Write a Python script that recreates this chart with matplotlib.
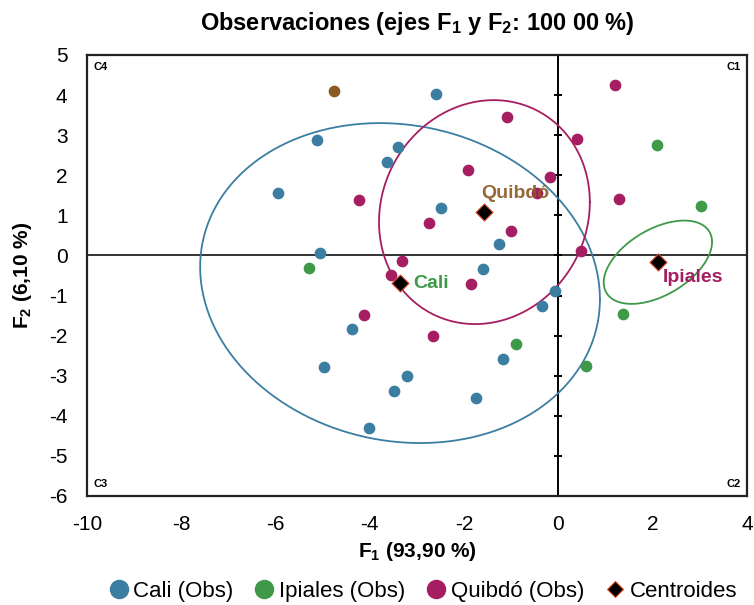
import matplotlib
matplotlib.use("Agg")
import matplotlib.pyplot as plt
from matplotlib.lines import Line2D
import numpy as np

# Observaciones sobre los ejes F1 y F2
cali_x = [-2.59, -5.13, -3.41, -3.63, -5.95, -2.50, -1.26, -5.05, -1.61,
          -0.08, -0.34, -4.37, -1.17, -4.97, -3.21, -3.49, -1.74, -4.02]
cali_y = [4.03, 2.88, 2.71, 2.33, 1.55, 1.18, 0.28, 0.07, -0.34,
          -0.88, -1.25, -1.84, -2.58, -2.78, -3.00, -3.37, -3.56, -4.31]

ipiales_x = [-5.29, 2.10, 3.02, 1.37, -0.91, 0.59]
ipiales_y = [-0.32, 2.75, 1.22, -1.47, -2.22, -2.77]

quibdo_x = [-4.23, -3.32, -3.55, -1.10, 0.39, 1.19, -1.92, -0.18, 1.28,
            -2.74, -1.00, 0.47, -0.45, -1.85, -2.67, -4.13]
quibdo_y = [1.38, -0.14, -0.50, 3.45, 2.91, 4.24, 2.14, 1.96, 1.41,
            0.82, 0.60, 0.11, 1.55, -0.71, -2.02, -1.48]

otro_x = [-4.77]
otro_y = [4.10]

# Centroides y covarianzas de las elipses de confianza
grupos = ['Cali', 'Ipiales', 'Quibdó']
cent_x = [-3.36, 2.11, -1.57]
cent_y = [-0.69, -0.17, 1.08]
cov = [np.array([[17.98, -1.70], [-1.70, 15.92]]),
       np.array([[1.32, 0.58], [0.58, 1.08]]),
       np.array([[5.00, 0.55], [0.55, 7.80]])]

x_ticks = [-10, -8, -6, -4, -2, 0, 2, 4]
y_ticks = [-6, -5, -4, -3, -2, -1, 0, 1, 2, 3, 4, 5]

azul = '#3b7ea1'
verde = '#3e9a48'
magenta = '#a61e62'
marron = '#8a5a22'

plt.rcParams['font.family'] = 'Liberation Sans'
plt.rcParams['mathtext.fontset'] = 'custom'
plt.rcParams['mathtext.rm'] = 'Liberation Sans:bold'
plt.rcParams['mathtext.bf'] = 'Liberation Sans:bold'
plt.rcParams['axes.unicode_minus'] = False

fig = plt.figure(figsize=(7.54, 6.05), dpi=100)
ax = fig.add_axes([0.1154, 0.1802, 0.8753, 0.729])

# elipses
t = np.linspace(0, 2 * np.pi, 300)
col_elipse = [azul, verde, magenta]
for i in range(len(grupos)):
    L = np.linalg.cholesky(cov[i])
    pts = L @ np.vstack((np.cos(t), np.sin(t)))
    ax.plot(cent_x[i] + pts[0], cent_y[i] + pts[1], color=col_elipse[i], lw=1.3, zorder=2)

# ejes centrales
ax.axhline(0, color='#333333', lw=1.4, zorder=1)
ax.axvline(0, color='black', lw=1.4, zorder=1)
ax.plot(np.zeros(len(y_ticks)), y_ticks, ls='none', marker='_', ms=6, mew=1.4,
        color='black', zorder=1)

ax.scatter(cali_x, cali_y, s=55, color=azul, zorder=3)
ax.scatter(ipiales_x, ipiales_y, s=55, color=verde, zorder=3)
ax.scatter(quibdo_x, quibdo_y, s=55, color=magenta, zorder=3)
ax.scatter(otro_x, otro_y, s=55, color=marron, zorder=3)
ax.scatter(cent_x, cent_y, s=75, marker='D', color='black', edgecolors='#e04a2a',
           linewidths=0.8, zorder=4)

# etiquetas de los centroides
ax.text(cent_x[0] + 0.28, cent_y[0], 'Cali', color=verde, fontsize=14,
        fontweight='bold', va='center', zorder=5)
ax.text(cent_x[1] + 0.1, cent_y[1] - 0.38, 'Ipiales', color=magenta, fontsize=14,
        fontweight='bold', va='center', zorder=5)
ax.text(cent_x[2] - 0.06, cent_y[2] + 0.47, 'Quibdó', color=marron, fontsize=14,
        fontweight='bold', va='center', alpha=0.9, zorder=5)

# cuadrantes
ax.text(0.01, 0.985, 'C4', transform=ax.transAxes, fontsize=8, fontweight='bold', va='top')
ax.text(0.99, 0.985, 'C1', transform=ax.transAxes, fontsize=8, fontweight='bold', va='top', ha='right')
ax.text(0.01, 0.015, 'C3', transform=ax.transAxes, fontsize=8, fontweight='bold', va='bottom')
ax.text(0.99, 0.015, 'C2', transform=ax.transAxes, fontsize=8, fontweight='bold', va='bottom', ha='right')

ax.set_xlim(-10, 4)
ax.set_ylim(-6, 5)
ax.set_xticks(x_ticks)
ax.set_yticks(y_ticks)
ax.tick_params(length=0, labelsize=15, pad=14)
for s in ax.spines.values():
    s.set_linewidth(1.6)
    s.set_color('#222222')

ax.set_title(r'Observaciones (ejes $\mathbf{F_1}$ y $\mathbf{F_2}$: 100 00 %)', fontsize=17,
             fontweight='bold', pad=18)
ax.set_xlabel(r'$\mathbf{F_1}$ (93,90 %)', fontsize=15, fontweight='bold', labelpad=4)
ax.set_ylabel(r'$\mathbf{F_2}$ (6,10 %)', fontsize=15, fontweight='bold', labelpad=11)

handles = [Line2D([], [], ls='none', marker='o', ms=13, color=azul),
           Line2D([], [], ls='none', marker='o', ms=13, color=verde),
           Line2D([], [], ls='none', marker='o', ms=13, color=magenta),
           Line2D([], [], ls='none', marker='D', ms=8, color='black',
                  markeredgecolor='#e04a2a', mew=0.8)]
fig.legend(handles, ['Cali (Obs)', 'Ipiales (Obs)', 'Quibdó (Obs)', 'Centroides'],
           loc='center', bbox_to_anchor=(0.56, 0.022), ncol=4, frameon=False,
           fontsize=16, handletextpad=0.15, columnspacing=0.9, handlelength=1.0)

fig.savefig('out.png', dpi=100)
